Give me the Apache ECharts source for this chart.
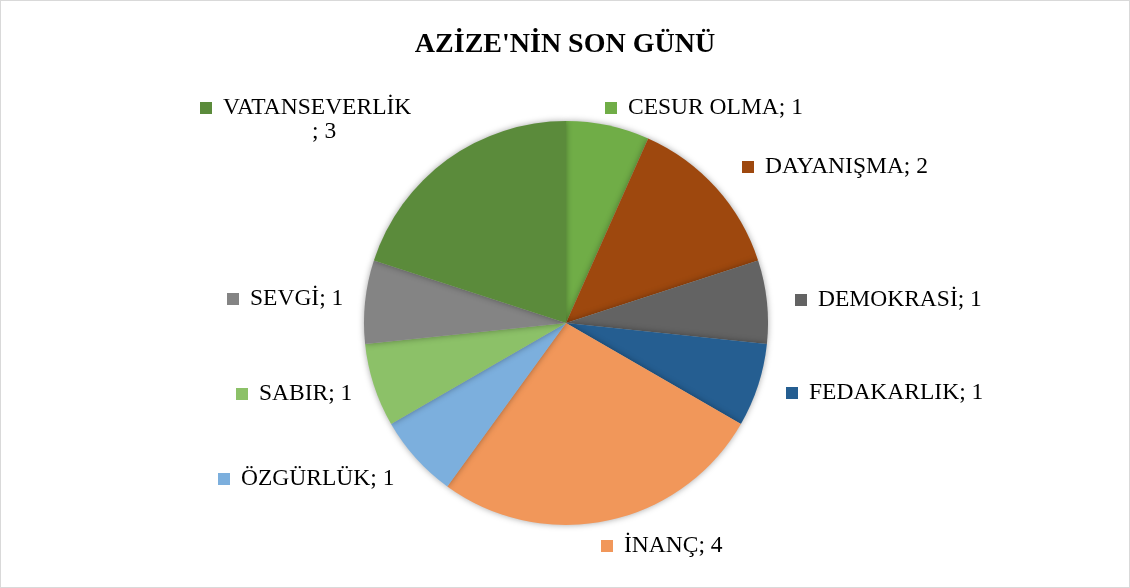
<!DOCTYPE html>
<html>
<head>
<meta charset="utf-8">
<script src="https://cdn.jsdelivr.net/npm/echarts@6/dist/echarts.min.js"></script>
<style>
  html, body { margin: 0; padding: 0; background: #fff; }
  #chart { width: 1128px; height: 586px; border: 1px solid #d9d9d9; }
</style>
</head>
<body>
<div id="chart"></div>
<script>
const title = "AZİZE'NİN SON GÜNÜ"
const categories = ['CESUR OLMA', 'DAYANIŞMA', 'DEMOKRASİ', 'FEDAKARLIK', 'İNANÇ', 'ÖZGÜRLÜK', 'SABIR', 'SEVGİ', 'VATANSEVERLİK']
const values = [1, 2, 1, 1, 4, 1, 1, 1, 3]

// styling / layout, kept apart from the data
const colors = ['#70ad47', '#9e480e', '#636363', '#255e91', '#f1975a', '#7cafdd', '#8cc168', '#848484', '#5b8b3b']
// left edge of the marker square, vertical middle of the label
const labelPos = [
  [604, 107], [741, 166], [794, 299], [785, 392], [600, 545],
  [217, 478], [235, 393], [226, 298], [199, 119]
]

const chart = echarts.init(document.getElementById('chart'))

const font = "'Liberation Serif', 'Times New Roman', serif"

const data = categories.map((name, i) => ({
  name,
  value: values[i],
  itemStyle: { color: colors[i] },
  label: {
    rich: {
      sq: { width: 12, height: 12, backgroundColor: colors[i] }
    }
  }
}))

chart.setOption({
  animation: false,
  title: {
    text: title,
    left: 'center',
    top: 25,
    textStyle: { fontFamily: font, fontSize: 28, fontWeight: 'bold', color: '#000' }
  },
  series: [{
    type: 'pie',
    center: [565, 322],
    radius: 202,
    startAngle: 90,
    clockwise: true,
    data,
    itemStyle: {
      shadowBlur: 6,
      shadowColor: 'rgba(0,0,0,0.35)'
    },
    labelLine: { show: false },
    label: {
      show: true,
      position: 'outside',
      fontFamily: font,
      fontSize: 23.5,
      color: '#000',
      formatter: p => {
        if (p.name === 'VATANSEVERLİK') return '{sq|}{t|' + p.name + '}\n{c|; ' + p.value + '}'
        return '{sq|}{t|' + p.name + '; ' + p.value + '}'
      },
      rich: {
        t: { fontFamily: font, fontSize: 23.5, color: '#000', padding: [0, 0, 0, 11] },
        c: { fontFamily: font, fontSize: 23.5, color: '#000', align: 'center', padding: [0, 0, 0, 37] }
      }
    },
    labelLayout: params => ({
      x: labelPos[params.dataIndex][0],
      y: labelPos[params.dataIndex][1],
      align: 'left',
      verticalAlign: 'middle'
    })
  }]
})
</script>
</body>
</html>
